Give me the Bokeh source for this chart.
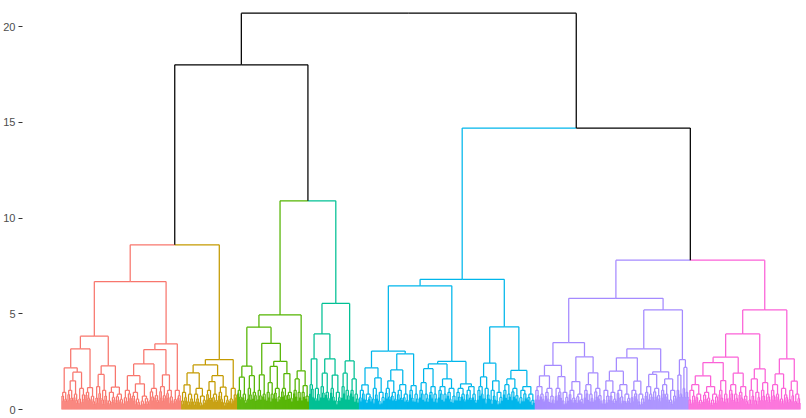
from bokeh.embed import file_html
from bokeh.models import ColumnDataSource, FixedTicker, Range1d
from bokeh.plotting import figure
from bokeh.resources import INLINE

# Tree notation: [height, left, right] is a merge; (n, h) is a dense block of
# n leaves whose own top merge is at height h (too fine to read one by one).
# A string names one of the coloured clusters below.
top_tree = [20.7,
            [18.0, [8.6, "red", "olive"], [10.9, "green", "teal"]],
            [14.7, "blue", [7.8, "purple", "pink"]]]

red_tree = [6.68,
            [3.83,
             [3.17,
              [2.18, (6, 0.9), [1.95, [1.5, (6, 1.0), (5, 0.8)], (7, 1.1)]],
              (10, 1.15)],
             [2.28, [1.83, (6, 1.2), (6, 1.0)], [1.17, (8, 0.9), (8, 0.8)]]],
            [3.43,
             [3.13,
              [2.38, [1.77, (8, 1.0), [1.34, (9, 0.9), (9, 0.7)]], (10, 1.1)],
              [1.81, (7, 1.2), (7, 1.0)]],
             (8, 1.0)]]

olive_tree = [2.61,
              [2.33,
               [1.91, [1.29, (6, 0.9), (6, 0.8)], [1.1, (6, 0.8), (7, 0.7)]],
               [1.77, [1.46, (6, 1.0), (6, 0.8)], [1.17, (5, 0.9), (6, 0.7)]]],
              (8, 1.1)]

green_tree = [4.94,
              [4.3,
               [2.26, [1.69, (5, 1.0), (5, 0.8)], [1.77, (5, 1.1), (5, 0.9)]],
               [3.46,
                [1.81, (5, 1.0), (4, 0.8)],
                [2.52, [2.25, [1.4, (4, 0.9), (4, 0.8)], (7, 1.1)],
                 [1.88, (6, 1.1), (6, 0.9)]]]],
              [2.02, [1.6, (4, 1.0), (4, 0.9)], [1.25, (4, 0.9), (4, 0.7)]]]

teal_tree = [5.54,
             [3.95,
              [2.65, (5, 1.3), (6, 1.1)],
              [2.65, [1.9, (5, 1.2), (5, 0.9)], [1.8, (5, 1.1), (6, 0.9)]]],
             [2.54, [1.9, (4, 1.2), (5, 1.0)], [1.6, (4, 1.0), (5, 0.8)]]]

blue_tree = [6.8,
             [6.46,
              [3.05,
               [2.18, [1.29, (6, 1.0), (7, 0.8)], [1.65, (6, 1.1), (7, 0.9)]],
               [2.91,
                [2.07, [1.5, (6, 1.1), (6, 0.9)], [1.3, (6, 1.0), (6, 0.8)]],
                [1.25, (5, 1.0), (5, 0.8)]]],
              [2.51,
               [2.38,
                [2.13, [1.4, (5, 1.0), (5, 0.8)], [1.2, (4, 0.9), (5, 0.8)]],
                [1.6, [1.2, (5, 1.0), (4, 0.8)], [1.1, (5, 0.9), (4, 0.7)]]],
               [1.34, [1.1, (5, 0.9), (5, 0.8)], [1.2, (6, 1.0), (5, 0.8)]]]],
             [4.32,
              [2.42, [1.7, [1.2, (4, 1.0), (3, 0.8)], (6, 1.1)],
               [1.5, (6, 1.0), (7, 0.9)]],
              [2.04, [1.6, [1.3, (4, 1.0), (4, 0.8)], (8, 1.1)],
               [1.2, (8, 1.0), (8, 0.8)]]]]

purple_tree = [5.81,
               [3.5,
                [2.3,
                 [1.76, [1.2, (5, 1.0), (5, 0.8)], [1.1, (5, 0.9), (5, 0.7)]],
                 [1.72, (7, 1.1), (7, 0.9)]],
                [2.75, [1.46, (7, 1.0), (8, 0.8)],
                 [1.92, [1.3, (5, 1.0), (5, 0.8)], (9, 1.1)]]],
               [5.2,
                [3.17,
                 [2.7,
                  [2.0, [1.5, (7, 1.0), (7, 0.9)], [1.3, (7, 1.0), (7, 0.8)]],
                  [1.48, (7, 1.0), (7, 0.8)]],
                 [1.97, [1.83, [1.2, (4, 0.9), (4, 0.8)], (8, 1.1)],
                  [1.6, [1.3, (4, 1.0), (4, 0.8)], (8, 1.0)]]],
                [2.6, [1.8, (3, 1.0), (3, 0.8)], [2.2, (3, 1.1), (3, 0.9)]]]]

pink_tree = [5.2,
             [3.95,
              [2.73,
               [2.45,
                [1.76, [1.3, (7, 1.0), (7, 0.8)], [1.2, (8, 0.9), (8, 0.8)]],
                [1.51, (5, 1.0), (5, 0.8)]],
               [1.9, [1.3, (5, 1.0), (5, 0.8)], [1.2, (5, 0.9), (5, 0.7)]]],
              [2.12, [1.6, (6, 1.0), (6, 0.9)], [1.4, (5, 1.0), (5, 0.8)]]],
             [2.65, [1.86, [1.3, (5, 1.0), (4, 0.8)], (9, 1.1)],
              [1.48, (6, 1.0), (6, 0.8)]]]

clusters = {"red": red_tree, "olive": olive_tree, "green": green_tree,
            "teal": teal_tree, "blue": blue_tree, "purple": purple_tree,
            "pink": pink_tree}

cluster_colors = {"red": "#F8766D", "olive": "#C49A00", "green": "#53B400",
                  "teal": "#00C094", "blue": "#00B6EB", "purple": "#A58AFF",
                  "pink": "#FB61D7"}

# relative heights of the merges inside a dense block, as they look
fringe_ratios = [0.78, 0.6, 0.84, 0.66, 0.52, 0.72, 0.62, 0.82, 0.5, 0.7]

y_ticks = [0, 5, 10, 15, 20]

segs = {"x0": [], "y0": [], "x1": [], "y1": [], "color": []}
next_leaf = [0]
ratio_i = [0]


def add(x0, y0, x1, y1, color):
    segs["x0"].append(x0)
    segs["y0"].append(y0)
    segs["x1"].append(x1)
    segs["y1"].append(y1)
    segs["color"].append(color)


def ratio():
    r = fringe_ratios[ratio_i[0] % len(fringe_ratios)]
    ratio_i[0] += 1
    return r


def place(node, color):
    if isinstance(node, str):
        return place(clusters[node], cluster_colors[node])
    if isinstance(node, tuple):
        n, h = node
        if n == 1:
            x = next_leaf[0]
            next_leaf[0] += 1
            return x, 0.0, color
        n1 = n // 2
        kids = [(n1, h * ratio()), (n - n1, h * ratio())]
    else:
        h, left, right = node
        kids = [left, right]
    placed = [place(k, color) for k in kids]
    x = (placed[0][0] + placed[1][0]) / 2
    for kx, kh, kc in placed:
        add(x, h, kx, h, kc)
        add(kx, h, kx, kh, kc)
    return x, h, color


place(top_tree, "black")
n_leaves = next_leaf[0]

W, H = 806, 418
left_border, bottom_border = 21, 4
frame_w = W - left_border
scale = (799.5 - 60.5) / (n_leaves - 1)
x_start = -(60.5 - left_border) / scale

p = figure(width=W, height=H, output_backend="svg", toolbar_location=None,
           x_axis_location=None,
           x_range=Range1d(x_start, x_start + frame_w / scale),
           y_range=Range1d(-0.26, 21.36))
p.min_border_left = left_border
p.min_border_right = 0
p.min_border_top = 0
p.min_border_bottom = bottom_border
p.outline_line_color = None
p.grid.visible = False
p.background_fill_color = "white"

p.segment(x0="x0", y0="y0", x1="x1", y1="y1", color="color", line_width=1.25,
          source=ColumnDataSource(segs))

p.yaxis.ticker = FixedTicker(ticks=y_ticks)
p.yaxis.axis_line_color = None
p.yaxis.minor_tick_line_color = None
p.yaxis.major_tick_in = 0
p.yaxis.major_tick_out = 4
p.yaxis.major_tick_line_color = "#333333"
p.yaxis.major_label_standoff = 3
p.yaxis.major_label_text_font = "Liberation Sans"
p.yaxis.major_label_text_font_size = "11px"
p.yaxis.major_label_text_color = "#4D4D4D"

open("out.html", "w").write(file_html(p, INLINE))
